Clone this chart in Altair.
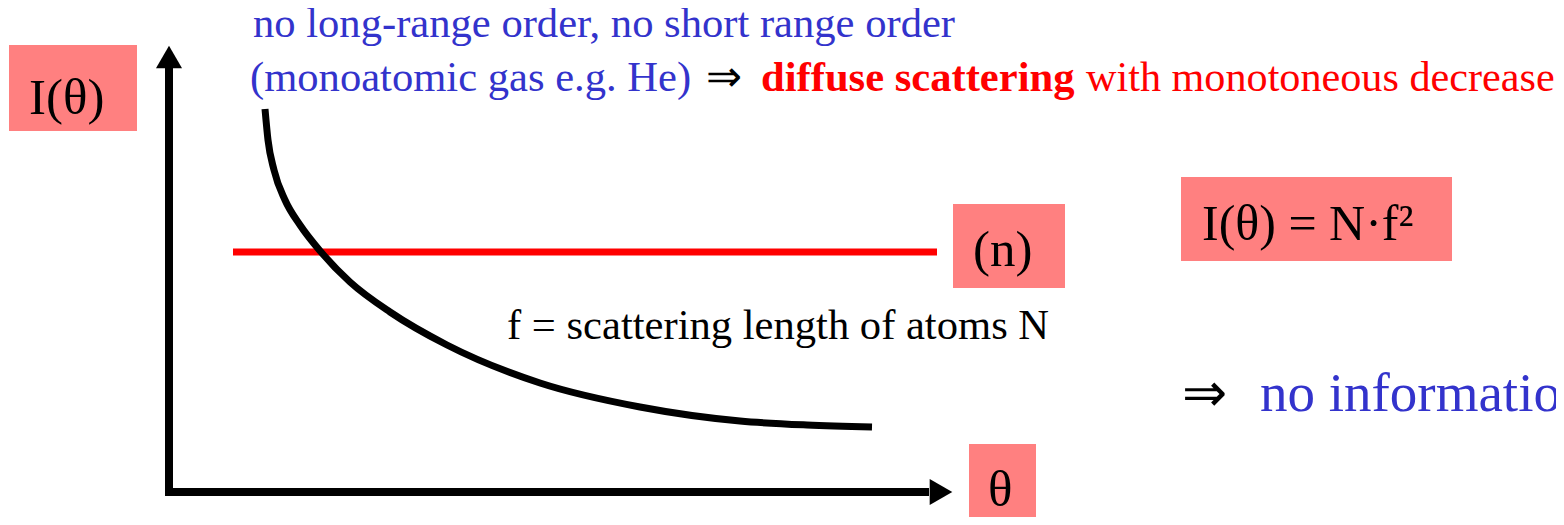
import altair as alt
import pandas as pd

# ---- diagram coordinates (pixel units of the slide) ----
# boxes (salmon background labels)
box_x1 = [9, 953, 1181, 969]
box_x2 = [137, 1065, 1452, 1036]
box_y1 = [45, 204, 177, 444]
box_y2 = [131, 288, 261, 524]

# axis shafts
axis_x1 = [169, 165]
axis_y1 = [492, 492]
axis_x2 = [169, 929]
axis_y2 = [68, 492]
# arrow heads
head_x = [169, 941]
head_y = [57, 492]
head_shape = ["triangle-up", "triangle-right"]

# red horizontal line (n)
red_x = [233, 937]
red_y = [252, 252]

# black decreasing curve
curve_x = [265, 268, 274, 285, 300, 321, 350, 390, 447, 540, 640, 740, 807, 872]
curve_y = [109, 140, 170, 200, 225, 252, 282, 312, 345, 383, 407, 421, 425, 427]

# texts
txt = ["no long-range order, no short range order",
       "(monoatomic gas e.g. He)",
       "\u21d2",
       "with monotoneous decrease",
       "I(\u03b8)",
       "(n)",
       "f = scattering length of atoms N",
       "I(\u03b8) = N\u00b7f\u00b2",
       "\u03b8",
       "\u21d2",
       "no information"]
txt_x = [253, 250, 706, 1086, 29, 973, 507, 1202, 988, 1182, 1260]
txt_y = [37, 91, 91, 91, 114, 266, 339, 240, 506, 411, 411]
txt_color = ["#3333CC", "#3333CC", "#000000", "#FF0000", "#000000", "#000000",
             "#000000", "#000000", "#000000", "#000000", "#3333CC"]
txt_size = [42.6, 42.6, 42.6, 42.2, 51, 51, 42.6, 50, 51, 54, 55]

bold_txt = ["diffuse scattering"]
bold_x = [761]
bold_y = [91]

W, H = 1548, 509
xs = alt.Scale(domain=[8, 8 + W], range=[0, W], nice=False, zero=False)
ys = alt.Scale(domain=[8, 8 + H], range=[0, H], nice=False, zero=False)

def X(f):
    return alt.X(f, type="quantitative", scale=xs, axis=None)

def Y(f):
    return alt.Y(f, type="quantitative", scale=ys, axis=None)

boxes = alt.Chart(pd.DataFrame({"x1": box_x1, "x2": box_x2, "y1": box_y1, "y2": box_y2})).mark_rect(
    color="#FF8080"
).encode(x=X("x1"), x2="x2", y=Y("y1"), y2="y2")

axes = alt.Chart(pd.DataFrame({"x1": axis_x1, "x2": axis_x2, "y1": axis_y1, "y2": axis_y2})).mark_rule(
    color="black", strokeWidth=8
).encode(x=X("x1"), x2="x2", y=Y("y1"), y2="y2")

heads = alt.Chart(pd.DataFrame({"x": head_x, "y": head_y, "s": head_shape})).mark_point(
    filled=True, color="black", size=680, opacity=1
).encode(x=X("x"), y=Y("y"), shape=alt.Shape("s:N", scale=None))

redline = alt.Chart(pd.DataFrame({"x": red_x, "y": red_y})).mark_line(
    color="#FF0000", strokeWidth=7, strokeCap="butt"
).encode(x=X("x"), y=Y("y"))

curve = alt.Chart(pd.DataFrame({"x": curve_x, "y": curve_y})).mark_line(
    color="black", strokeWidth=7, strokeCap="butt", interpolate="monotone"
).encode(x=X("x"), y=Y("y"), order=alt.Order("x:Q"))

texts = alt.Chart(pd.DataFrame({"t": txt, "x": txt_x, "y": txt_y, "c": txt_color, "s": txt_size})).mark_text(
    align="left", baseline="alphabetic", font="Liberation Serif"
).encode(
    x=X("x"), y=Y("y"), text="t:N",
    color=alt.Color("c:N", scale=None),
    size=alt.Size("s:Q", scale=None),
)

bold = alt.Chart(pd.DataFrame({"t": bold_txt, "x": bold_x, "y": bold_y})).mark_text(
    align="left", baseline="alphabetic", font="Liberation Serif", fontWeight="bold",
    fontSize=42.6, color="#FF0000"
).encode(x=X("x"), y=Y("y"), text="t:N")

chart = alt.layer(boxes, redline, curve, axes, heads, texts, bold).properties(
    width=W, height=H, padding=0, autosize=alt.AutoSizeParams(type="none")
).configure_view(stroke=None)

chart.save("out.html", embed_options={"renderer": "svg", "actions": False})
